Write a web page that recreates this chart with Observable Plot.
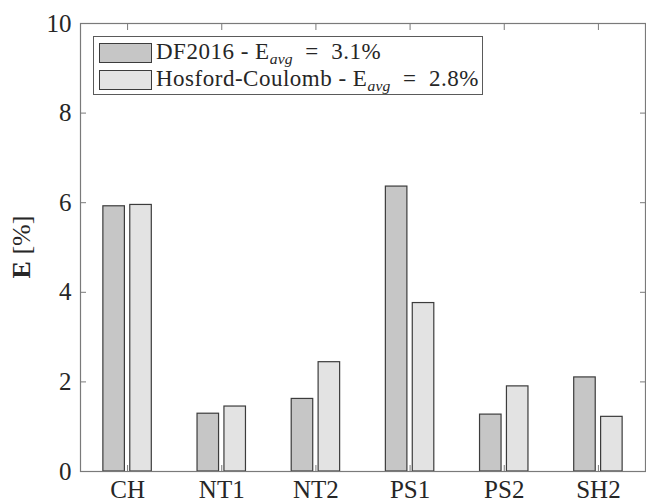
<!DOCTYPE html>
<html><head><meta charset="utf-8">
<script src="https://cdn.jsdelivr.net/npm/d3@7"></script>
<script src="https://cdn.jsdelivr.net/npm/@observablehq/plot@0.6"></script>
<style>
body{margin:0;background:#fff;}
#wrap{position:relative;width:646px;height:503px;font-family:"Liberation Serif","DejaVu Serif",serif;color:#262626;}
#legend{position:absolute;left:93px;top:36px;width:390px;height:59px;box-sizing:border-box;border:1px solid #5a5a5a;background:#fff;}
.row{position:absolute;left:5px;height:20px;display:flex;align-items:center;white-space:pre;font-size:23px;letter-spacing:0.5px;line-height:20px;}
.sw{width:53px;height:20px;box-sizing:border-box;border:1.3px solid #3c3c3c;margin-right:4px;flex:none;}
.sub{font-size:0.68em;font-style:italic;position:relative;top:0.32em;letter-spacing:0.2px;}
#ylab{position:absolute;left:22px;top:247px;transform:translate(-50%,-50%) rotate(-90deg);font-size:26px;white-space:pre;}
</style></head><body><div id="wrap"></div>
<script>
const categories = ["CH", "NT1", "NT2", "PS1", "PS2", "SH2"];
const series = ["DF2016", "Hosford-Coulomb"];
const df2016 = [5.92, 1.29, 1.62, 6.36, 1.27, 2.10];
const hosford = [5.95, 1.45, 2.44, 3.76, 1.90, 1.22];
const eavg = ["3.1", "2.8"];
const yTicks = [0, 2, 4, 6, 8, 10];
const colors = ["#c6c6c6", "#e3e3e3"];

// MATLAB grouped bar layout: 2 bars per group
const groupWidth = Math.min(0.8, 2 / (2 + 1.5));
const barSpacing = groupWidth / 2;
const barWidth = barSpacing * 0.8;
const offsets = [-barSpacing / 2, barSpacing / 2];

const rows = [];
[df2016, hosford].forEach((vals, s) => {
  vals.forEach((v, i) => rows.push({cat: categories[i], pos: i + 1, series: series[s], s, value: v}));
});
const positions = categories.map((c, i) => i + 1);

const axisColor = "#7a7a7a";
const chart = Plot.plot({
  width: 646, height: 503,
  marginLeft: 80, marginRight: 1, marginTop: 23, marginBottom: 32,
  x: {domain: [0.5, 6.5]},
  y: {domain: [0, 10]},
  color: {domain: series, range: colors},
  style: {fontFamily: "Liberation Serif, DejaVu Serif, serif", fontSize: "25px", color: "#262626", background: "transparent", overflow: "visible"},
  marks: [
    Plot.rect(rows, {
      x1: d => d.pos + offsets[d.s] - barWidth / 2,
      x2: d => d.pos + offsets[d.s] + barWidth / 2,
      y1: 0, y2: "value",
      fill: "series", stroke: "#3c3c3c", strokeWidth: 1.2
    }),
    Plot.frame({stroke: axisColor, strokeWidth: 1.2}),
    Plot.axisX(positions, {anchor: "bottom", tickSize: -6, tickPadding: 15, stroke: axisColor, fill: "#262626", tickFormat: p => categories[p - 1], label: null, fontSize: 25}),
    Plot.axisX(positions, {anchor: "top", tickSize: -6, stroke: axisColor, tickFormat: () => "", label: null}),
    Plot.axisY(yTicks, {anchor: "left", tickSize: -6, tickPadding: 15, stroke: axisColor, fill: "#262626", label: null, fontSize: 25}),
    Plot.axisY(yTicks, {anchor: "right", tickSize: -6, stroke: axisColor, tickFormat: () => "", label: null})
  ]
});
const wrap = document.getElementById("wrap");
wrap.appendChild(chart);

const legend = document.createElement("div");
legend.id = "legend";
series.forEach((name, s) => {
  const row = document.createElement("div");
  row.className = "row";
  row.style.top = (6 + s * 26.5) + "px";
  row.innerHTML = `<div class="sw" style="background:${colors[s]}"></div><span>${name} - E<span class="sub">avg</span>  =  ${eavg[s]}%</span>`;
  legend.appendChild(row);
});
wrap.appendChild(legend);

const ylab = document.createElement("div");
ylab.id = "ylab";
ylab.innerHTML = `<b>E</b> [%]`;
wrap.appendChild(ylab);
</script>
</body></html>
